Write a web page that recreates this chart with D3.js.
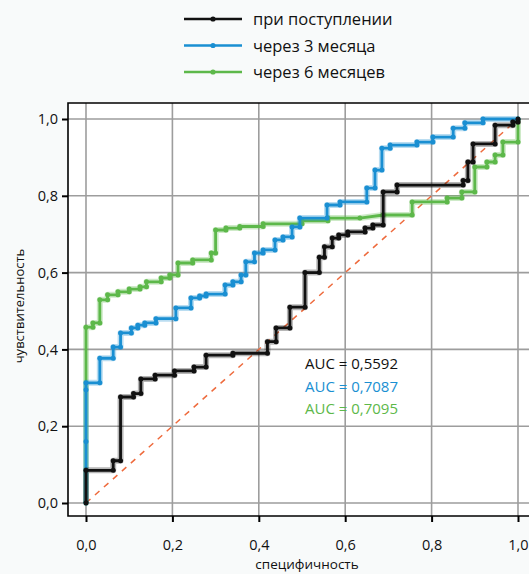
<!DOCTYPE html>
<html>
<head>
<meta charset="utf-8">
<script src="https://cdn.jsdelivr.net/npm/d3@7"></script>
<style>
  html, body { margin: 0; padding: 0; background: #f8fafa; }
  svg { display: block; }
  text { font-family: "Open Sans", "Noto Sans", sans-serif; }
</style>
</head>
<body>
<div id="chart-area"></div>
<script>
// ROC points: [1 - specificity, sensitivity]
const admission = [
  [0, 0], [0, 0.085], [0.063, 0.085], [0.063, 0.11], [0.08, 0.11], [0.08, 0.276],
  [0.11, 0.276], [0.11, 0.285], [0.127, 0.285], [0.127, 0.323], [0.16, 0.323],
  [0.16, 0.333], [0.205, 0.333], [0.205, 0.344], [0.25, 0.344], [0.25, 0.354],
  [0.278, 0.354], [0.278, 0.385], [0.34, 0.385], [0.34, 0.39], [0.42, 0.39],
  [0.42, 0.42], [0.44, 0.42], [0.44, 0.456], [0.472, 0.456], [0.472, 0.51],
  [0.507, 0.51], [0.507, 0.6], [0.54, 0.6], [0.54, 0.64], [0.552, 0.64],
  [0.552, 0.667], [0.57, 0.667], [0.57, 0.69], [0.585, 0.69], [0.585, 0.698],
  [0.606, 0.698], [0.606, 0.706], [0.646, 0.706], [0.646, 0.716], [0.664, 0.716],
  [0.664, 0.724], [0.688, 0.724], [0.688, 0.81], [0.72, 0.81], [0.72, 0.828],
  [0.873, 0.828], [0.873, 0.84], [0.884, 0.84], [0.884, 0.888], [0.896, 0.888],
  [0.896, 0.935], [0.947, 0.935], [0.947, 0.984], [0.988, 0.984], [0.988, 0.992],
  [1, 0.992], [1, 1]
];

const month3 = [
  [0, 0], [0, 0.16], [0, 0.295], [0, 0.313], [0.032, 0.313], [0.032, 0.377], [0.063, 0.377],
  [0.063, 0.406], [0.08, 0.406], [0.08, 0.443], [0.105, 0.443], [0.105, 0.456],
  [0.12, 0.456], [0.12, 0.463], [0.136, 0.463], [0.136, 0.469], [0.162, 0.469],
  [0.162, 0.48], [0.208, 0.48], [0.208, 0.508], [0.243, 0.508], [0.243, 0.534],
  [0.263, 0.534], [0.263, 0.539], [0.278, 0.539], [0.278, 0.544], [0.322, 0.544],
  [0.322, 0.568], [0.34, 0.568], [0.34, 0.576], [0.359, 0.576], [0.359, 0.594],
  [0.37, 0.594], [0.37, 0.628], [0.39, 0.628], [0.39, 0.651], [0.41, 0.651],
  [0.41, 0.659], [0.4375, 0.659], [0.4375, 0.685], [0.456, 0.685], [0.456, 0.693],
  [0.477, 0.693], [0.477, 0.719], [0.495, 0.719], [0.495, 0.742], [0.558, 0.742],
  [0.558, 0.776], [0.588, 0.776], [0.588, 0.784], [0.65, 0.784], [0.65, 0.82],
  [0.669, 0.82], [0.669, 0.867], [0.685, 0.867], [0.685, 0.924], [0.704, 0.924],
  [0.704, 0.932], [0.766, 0.932], [0.766, 0.94], [0.803, 0.94], [0.803, 0.953],
  [0.85, 0.953], [0.85, 0.976], [0.877, 0.976], [0.877, 0.99], [0.919, 0.99],
  [0.919, 1], [1, 1]
];

const month6 = [
  [0, 0], [0, 0.458], [0.016, 0.458], [0.016, 0.469], [0.032, 0.469], [0.032, 0.529],
  [0.05, 0.529], [0.05, 0.542], [0.074, 0.542], [0.074, 0.55], [0.1, 0.55],
  [0.1, 0.557], [0.125, 0.557], [0.125, 0.563], [0.14, 0.563], [0.14, 0.576],
  [0.174, 0.576], [0.174, 0.586], [0.194, 0.586], [0.194, 0.594], [0.213, 0.594],
  [0.213, 0.625], [0.247, 0.625], [0.247, 0.633], [0.29, 0.633], [0.29, 0.651],
  [0.3, 0.651], [0.3, 0.711], [0.324, 0.711], [0.324, 0.716], [0.356, 0.716],
  [0.356, 0.72], [0.41, 0.72], [0.41, 0.727], [0.5, 0.727], [0.5, 0.735],
  [0.56, 0.735], [0.56, 0.742], [0.634, 0.742], [0.688, 0.75], [0.755, 0.75],
  [0.755, 0.784], [0.836, 0.784], [0.836, 0.794], [0.87, 0.794], [0.87, 0.81],
  [0.9, 0.81], [0.9, 0.875], [0.928, 0.875], [0.928, 0.888], [0.947, 0.888],
  [0.947, 0.906], [0.965, 0.906], [0.965, 0.94], [1, 0.94], [1, 1]
];

const seriesNames = ['при поступлении', 'через 3 месяца', 'через 6 месяцев'];
const seriesColors = ['#111111', '#1a8fd2', '#5db84a'];
const aucLabels = ['AUC = 0,5592', 'AUC = 0,7087', 'AUC = 0,7095'];
const tickValues = [0, 0.2, 0.4, 0.6, 0.8, 1.0];

const W = 529, H = 574;
const frame = { left: 68, top: 103, right: 540, bottom: 516 };

const svg = d3.select('#chart-area')
  .append('svg')
  .attr('width', W)
  .attr('height', H);

const x = d3.scaleLinear().domain([0, 1]).range([86, 518]);
const y = d3.scaleLinear().domain([0, 1]).range([503, 119]);
const fmt = d => d.toFixed(1).replace('.', ',');

// plot background
svg.append('rect')
  .attr('x', frame.left).attr('y', frame.top)
  .attr('width', frame.right - frame.left)
  .attr('height', frame.bottom - frame.top)
  .attr('fill', '#fff');

// grid
const grid = svg.append('g').attr('stroke', '#9d9d9d').attr('stroke-width', 1.6);
tickValues.forEach(t => {
  grid.append('line')
    .attr('x1', x(t)).attr('x2', x(t))
    .attr('y1', frame.top).attr('y2', frame.bottom);
  grid.append('line')
    .attr('x1', frame.left).attr('x2', frame.right)
    .attr('y1', y(t)).attr('y2', y(t));
});

// axes
const xAxis = svg.append('g')
  .attr('transform', `translate(0, ${frame.bottom})`)
  .call(d3.axisBottom(x).tickValues(tickValues).tickFormat(fmt).tickSize(6).tickSizeOuter(0));
const yAxis = svg.append('g')
  .attr('transform', `translate(${frame.left}, 0)`)
  .call(d3.axisLeft(y).tickValues(tickValues).tickFormat(fmt).tickSize(6).tickSizeOuter(0));

[xAxis, yAxis].forEach(a => {
  a.select('.domain').remove();
  a.selectAll('line').attr('stroke', '#000').attr('stroke-width', 2);
  a.selectAll('text')
    .attr('fill', '#111')
    .attr('font-size', 14.5)
    .attr('font-family', '"Open Sans", sans-serif');
});
xAxis.selectAll('text').attr('dy', '1.7em');
yAxis.selectAll('text').attr('x', -10);

// frame
svg.append('path')
  .attr('d', `M${frame.right},${frame.top}H${frame.left}V${frame.bottom}H${frame.right}`)
  .attr('fill', 'none')
  .attr('stroke', '#000')
  .attr('stroke-width', 1.6);

// diagonal reference
svg.append('line')
  .attr('x1', x(0)).attr('y1', y(0))
  .attr('x2', x(1)).attr('y2', y(1))
  .attr('stroke', '#ee6a3c')
  .attr('stroke-width', 1.5)
  .attr('stroke-dasharray', '6,6');

// curves
const line = d3.line().x(d => x(d[0])).y(d => y(d[1]));
const series = [admission, month3, month6];

// draw green first so black and blue sit above it where they cross
[2, 1, 0].forEach(i => {
  const g = svg.append('g');
  g.append('path')
    .attr('d', line(series[i]))
    .attr('fill', 'none')
    .attr('stroke', seriesColors[i])
    .attr('stroke-opacity', 0.3)
    .attr('stroke-width', 6)
    .attr('stroke-linejoin', 'round');
  g.append('path')
    .attr('d', line(series[i]))
    .attr('fill', 'none')
    .attr('stroke', seriesColors[i])
    .attr('stroke-width', 2.8);
  g.selectAll('circle')
    .data(series[i])
    .join('circle')
    .attr('cx', d => x(d[0]))
    .attr('cy', d => y(d[1]))
    .attr('r', 2.5)
    .attr('fill', seriesColors[i]);
});

// AUC labels
aucLabels.forEach((t, i) => {
  svg.append('text')
    .attr('x', 305)
    .attr('y', 369 + i * 22.5)
    .attr('font-size', 15)
    .attr('fill', seriesColors[i])
    .text(t);
});

// legend
seriesNames.forEach((name, i) => {
  const ly = 19 + i * 26.5;
  svg.append('line')
    .attr('x1', 184).attr('x2', 242)
    .attr('y1', ly).attr('y2', ly)
    .attr('stroke', seriesColors[i])
    .attr('stroke-width', 2.4);
  svg.append('circle')
    .attr('cx', 213).attr('cy', ly).attr('r', 2.6)
    .attr('fill', seriesColors[i]);
  svg.append('text')
    .attr('x', 253)
    .attr('y', ly + 6)
    .attr('font-size', 16.5)
    .attr('fill', '#111')
    .text(name);
});

// axis titles
svg.append('text')
  .attr('x', 307).attr('y', 569)
  .attr('text-anchor', 'middle')
  .attr('font-size', 13.5)
  .attr('fill', '#111')
  .text('специфичность');

svg.append('text')
  .attr('transform', 'translate(24, 306) rotate(-90)')
  .attr('text-anchor', 'middle')
  .attr('font-size', 13)
  .attr('fill', '#111')
  .text('чувствительность');
</script>
</body>
</html>
